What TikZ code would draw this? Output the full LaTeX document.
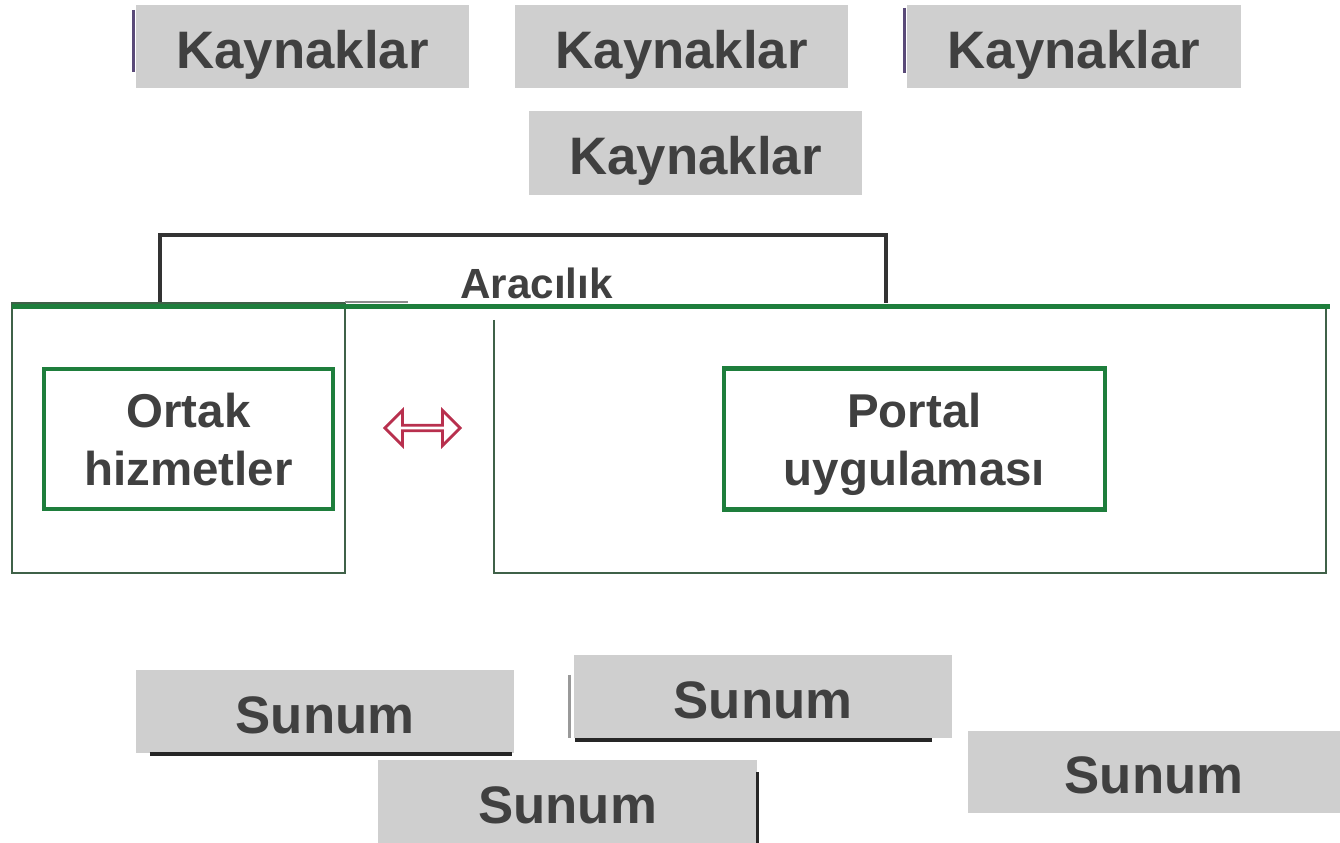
\documentclass[tikz,border=0pt]{standalone}
\usepackage{fontspec}
\setmainfont{Liberation Sans}
\usetikzlibrary{positioning,shapes.arrows}
\definecolor{boxgray}{HTML}{CFCFCF}
\definecolor{textgray}{HTML}{404040}
\definecolor{framegreen}{HTML}{1E7E3C}
\definecolor{edgegreen}{HTML}{3F6148}
\definecolor{linkred}{HTML}{B8304E}
\definecolor{edgepurple}{HTML}{5A4A78}

\begin{document}
\begin{tikzpicture}[x=0.01cm, y=-0.01cm,
            graynode/.style={rectangle, fill=boxgray, text=textgray, font=\fontsize{15}{18}\selectfont\bfseries, minimum width=3.33cm, minimum height=0.83cm, inner sep=0pt, outer sep=0pt, text height=0.43cm, text depth=0pt},
            sunumnode/.style={graynode, minimum width=3.78cm},
            greennode/.style={rectangle, draw=framegreen, line width=1.2pt, fill=white, text=textgray, font=\fontsize{13.5}{16.4}\selectfont\bfseries, align=center, inner sep=0pt, text depth=0pt},
            framebox/.style={draw=edgegreen, line width=0.7pt},
            shadowline/.style={draw=black!85, line width=0.9pt},
            ]
            \useasboundingbox (0,0) rectangle (1340,843);

            %Nodes
            \node[graynode]      (kayA)     at (302.5,46.5)     {Kaynaklar};
            \node[graynode]      (kayB)     [right=0.46cm of kayA] {Kaynaklar};
            \node[graynode]      (kayC)     [right=0.59cm of kayB] {Kaynaklar};
            \node[graynode]      (kayD)     at (695.5,153)      {Kaynaklar};

            %Frames
            \draw[line width=0.9pt, black!80] (160,303) |- (886,235) -- (886,303);
            \node[fill=white, text=textgray, font=\fontsize{12}{14}\selectfont\bfseries, minimum width=2.57cm, text height=0.44cm, text depth=0pt, inner ysep=0.06cm, inner xsep=0pt, anchor=south] (araci) at (536.5,305) {Aracılık};
            \draw[framebox] (12,303) rectangle (345,573);
            \draw[black!45, line width=0.8pt] (345,302) -- (408,302);
            \draw[framebox] (494,320) |- (1326,573) -- (1326,306);
            \draw[framegreen, line width=1.2pt] (12,306.5) -- (1330,306.5);

            \node[greennode, minimum width=2.89cm, minimum height=1.40cm] (ortak)  at (188.5,439)   {Ortak\\hizmetler};
            \node[greennode, minimum width=3.81cm, minimum height=1.41cm] (portal) at (914.5,439) {Portal\\uygulaması};
            \node[double arrow, draw=linkred, fill=white, line width=0.8pt, minimum height=0.75cm, minimum width=0.35cm, double arrow head extend=0.075cm, inner sep=0pt] (link) at (422.5,428) {};

            \node[sunumnode]     (sunA)     at (325,711.5)      {Sunum};
            \node[sunumnode]     (sunB)     at (763,696.5)      {Sunum};
            \node[sunumnode]     (sunC)     at (567.5,802)      {Sunum};
            \node[sunumnode, minimum width=3.72cm, minimum height=0.82cm] (sunD) at (1154,772) {Sunum};

            %Lines
            \draw[edgepurple, line width=0.9pt] ([xshift=-0.02cm, yshift=-0.05cm]kayA.north west) -- ([xshift=-0.02cm, yshift=0.16cm]kayA.south west);
            \draw[edgepurple, line width=0.9pt] ([xshift=-0.03cm, yshift=-0.03cm]kayC.north west) -- ([xshift=-0.03cm, yshift=0.15cm]kayC.south west);
            \draw[shadowline] ([xshift=0.14cm, yshift=-0.01cm]sunA.south west) -- ([xshift=-0.02cm, yshift=-0.01cm]sunA.south east);
            \draw[black!40, line width=0.8pt] ([xshift=-0.04cm, yshift=-0.2cm]sunB.north west) -- ([xshift=-0.04cm]sunB.south west);
            \draw[shadowline] ([xshift=0.01cm, yshift=-0.02cm]sunB.south west) -- ([xshift=-0.2cm, yshift=-0.02cm]sunB.south east);
            \draw[shadowline] ([xshift=0.01cm, yshift=-0.12cm]sunC.north east) -- ([xshift=0.01cm]sunC.south east);

        \end{tikzpicture}
\end{document}
